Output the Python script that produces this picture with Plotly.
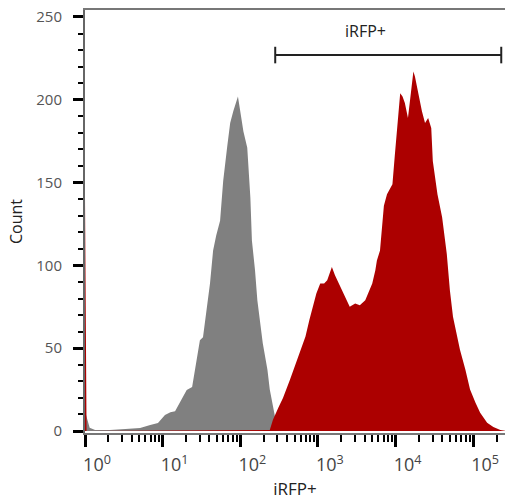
import numpy as np
import plotly.graph_objects as go

# ---- data (x in decades of fluorescence, y = count) ----
grey_log_x = [0.00, 0.06, 0.13, 0.32, 0.52, 0.71, 0.84, 0.94, 1.03, 1.10, 1.16, 1.22,
              1.31, 1.38, 1.44, 1.48, 1.52, 1.57, 1.61, 1.65, 1.69, 1.74, 1.78, 1.83,
              1.87, 1.91, 1.95, 1.97, 2.01, 2.04, 2.09, 2.13, 2.15, 2.19, 2.22, 2.29,
              2.35, 2.38, 2.45, 2.51, 2.58]
grey_count = [12, 2, 0.6, 0.6, 1.2, 1.8, 3.6, 4.8, 9.6, 11.4, 12, 16.9,
              24.7, 26.5, 42.8, 54.8, 56.6, 72.9, 89, 109, 118, 127, 151, 171,
              186, 193, 200, 202, 190, 181, 171, 141, 115, 97, 79, 53,
              37, 25, 8, 2, 0]

red_log_x = [0.00, 0.02, 2.38, 2.42, 2.49, 2.55, 2.64, 2.73, 2.84, 2.89, 2.93, 2.98,
             3.03, 3.08, 3.12, 3.16, 3.18, 3.22, 3.25, 3.29, 3.32, 3.38, 3.41, 3.48,
             3.54, 3.61, 3.65, 3.70, 3.74, 3.76, 3.80, 3.85, 3.89, 3.96, 3.99, 4.02,
             4.05, 4.06, 4.09, 4.12, 4.16, 4.19, 4.23, 4.25, 4.29, 4.34, 4.38, 4.42,
             4.46, 4.48, 4.54, 4.60, 4.66, 4.70, 4.74, 4.83, 4.90, 4.96, 5.03, 5.09,
             5.18, 5.26, 5.35, 5.43]
red_count = [141, 0, 0.6, 6.6, 14, 20, 31, 43, 57, 67, 75, 83,
             89, 89, 91, 96, 99, 94, 91, 88, 85, 79, 75, 77,
             76, 79, 83, 89, 97, 103, 109, 136, 143, 149, 166, 183,
             199, 204, 202, 198, 189, 202, 217, 214, 204, 193, 186, 189,
             183, 163, 143, 129, 107, 85, 69, 49, 37, 25, 17, 11,
             5, 2.4, 0.6, 0]

gate_low = 282
gate_high = 2.3e5
gate_y = 227
gate_label = "iRFP+"

x_tick_vals = [1, 10, 100, 1000, 10000, 100000]
x_tick_text = ["10<sup>0</sup>", "10<sup>1</sup>", "10<sup>2</sup>",
               "10<sup>3</sup>", "10<sup>4</sup>", "10<sup>5</sup>"]
y_tick_vals = [0, 50, 100, 150, 200, 250]

x_minor = [m * 10 ** d for d in range(0, 6) for m in range(2, 10)]
y_minor = list(range(0, 260, 10))

grey_x = 10 ** np.array(grey_log_x)
red_x = 10 ** np.array(red_log_x)

fig = go.Figure()
fig.add_trace(go.Scatter(x=grey_x, y=grey_count, mode="lines", fill="tozeroy",
                         line=dict(color="#808080", width=0), fillcolor="#808080",
                         hoverinfo="skip", showlegend=False))
fig.add_trace(go.Scatter(x=red_x, y=red_count, mode="lines", fill="tozeroy",
                         line=dict(color="#ac0000", width=0), fillcolor="#ac0000",
                         hoverinfo="skip", showlegend=False))

# gate bar with end caps
cap = 5
fig.add_trace(go.Scatter(
    x=[gate_low, gate_high, None, gate_low, gate_low, None, gate_high, gate_high],
    y=[gate_y, gate_y, None, gate_y - cap, gate_y + cap, None, gate_y - cap, gate_y + cap],
    mode="lines", line=dict(color="#222222", width=2), hoverinfo="skip",
    showlegend=False, cliponaxis=False))

fig.add_annotation(text=gate_label, xref="paper", yref="y", x=0.721, y=241.5,
                   showarrow=False, font=dict(size=16, color="#222222", family="Open Sans"))

fig.update_layout(
    width=506, height=500,
    margin=dict(l=85, r=1, t=10, b=67),
    plot_bgcolor="white", paper_bgcolor="white",
    font=dict(family="Open Sans", color="#333333"),
    xaxis=dict(type="log", range=[0, 5.41], tickvals=x_tick_vals, ticktext=x_tick_text,
               ticks="outside", ticklen=12, tickwidth=3, tickcolor="black",
               tickfont=dict(size=18, color="#444444"), ticklabelshift=12,
               ticklabelstandoff=3,
               minor=dict(tickvals=x_minor, ticks="outside", ticklen=7, tickwidth=1.5,
                          tickcolor="black"),
               showline=True, linecolor="#777777", linewidth=1.5, mirror=True,
               showgrid=False, zeroline=False, automargin=False,
               title=dict(text="iRFP+", font=dict(size=17, color="#222222"), standoff=8)),
    yaxis=dict(range=[-1.2, 254.2], tickvals=y_tick_vals,
               ticks="outside", ticklen=10, tickwidth=3, tickcolor="black",
               tickfont=dict(size=15, color="#555555"), ticklabelstandoff=8,
               minor=dict(tickvals=y_minor, ticks="outside", ticklen=5, tickwidth=1.5,
                          tickcolor="black"),
               showline=True, linecolor="#666666", linewidth=2,
               showgrid=False, zeroline=False, automargin=False,
               title=dict(text="Count", font=dict(size=16, color="#222222"), standoff=10)),
)

fig.write_html("out.html", config={"displayModeBar": False},
               post_script="document.body.style.margin='0';")
